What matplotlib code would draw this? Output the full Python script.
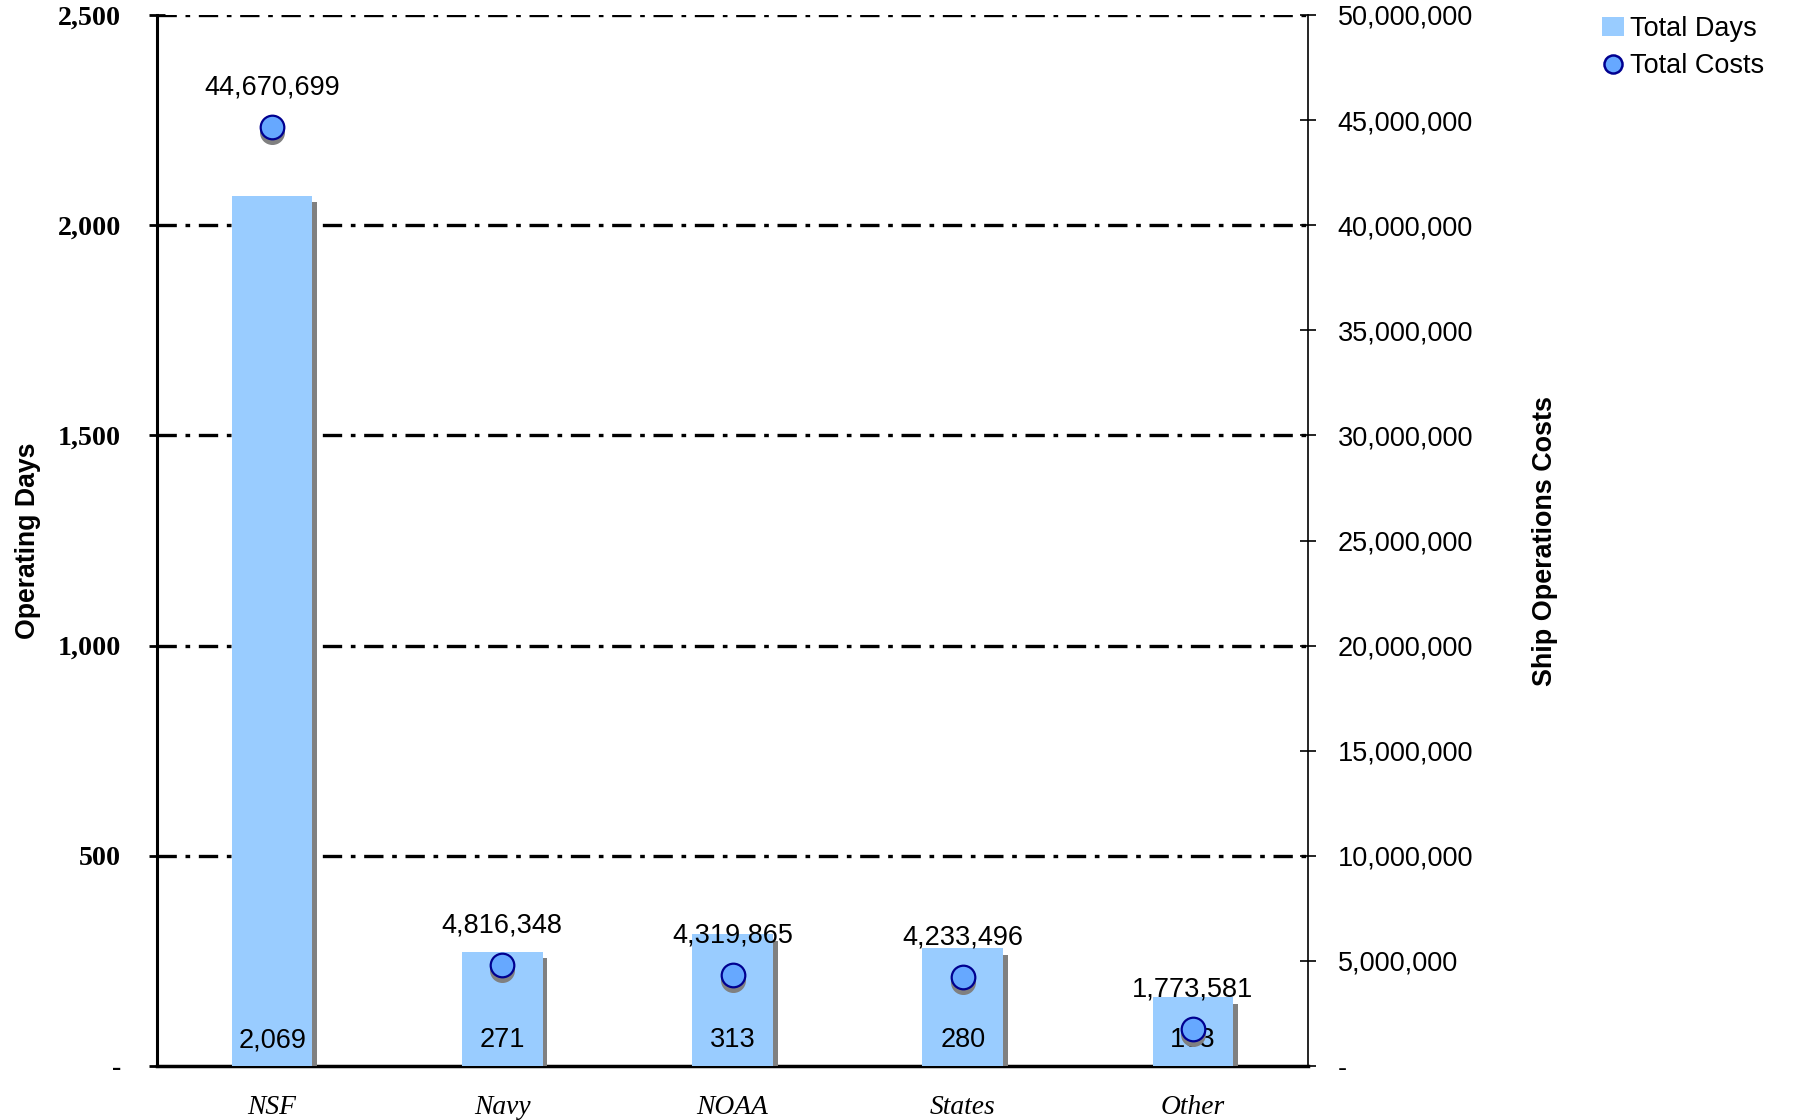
import matplotlib
matplotlib.use("Agg")
import matplotlib.pyplot as plt
import matplotlib.patheffects as pe
from matplotlib.transforms import ScaledTranslation
from matplotlib.ticker import FuncFormatter
from matplotlib.patches import Patch
from matplotlib.lines import Line2D

categories = ["NSF", "Navy", "NOAA", "States", "Other"]
total_days = [2069, 271, 313, 280, 163]
total_costs = [44670699, 4816348, 4319865, 4233496, 1773581]
left_ticks = [0, 500, 1000, 1500, 2000, 2500]
right_ticks = [0, 5e6, 10e6, 15e6, 20e6, 25e6, 30e6, 35e6, 40e6, 45e6, 50e6]

BAR = "#99CCFF"
MFACE = "#66A8FF"
MEDGE = "#000090"
SHADOW = "#808080"
FS = 19.5

fig = plt.figure(figsize=(17.93, 11.20), dpi=100)
ax = fig.add_axes([157/1793, 1-1066/1120, (1308-157)/1793, (1066-15)/1120])
ax2 = ax.twinx()

x = [i + 0.5 for i in range(len(categories))]
ax.set_xlim(0, 5)
ax.set_ylim(0, 2500)
ax2.set_ylim(0, 50e6)

# grid lines
for t in left_ticks[1:]:
    ax.axhline(t, color="black", lw=2.4, linestyle=(0, (5.8, 2.6, 1.4, 2.6)), zorder=1)

bars = ax.bar(x, total_days, width=0.35, color=BAR, zorder=3,
              path_effects=[pe.SimplePatchShadow(offset=(3.5, -4.5), shadow_rgbFace=SHADOW, alpha=1.0), pe.Normal()])

for xi, d in zip(x, total_days):
    ax.annotate(f"{d:,}", (xi, 0), xytext=(0, 18.5), textcoords="offset points",
                ha="center", va="center", fontsize=FS, family="Liberation Sans", zorder=6)

# markers with shadow
shadow_tr = ax2.transData + ScaledTranslation(0, -3.5/72, fig.dpi_scale_trans)
ax2.plot(x, total_costs, linestyle="none", marker="o", markersize=17,
         markerfacecolor=SHADOW, markeredgecolor=SHADOW, transform=shadow_tr, zorder=4)
ax2.plot(x, total_costs, linestyle="none", marker="o", markersize=17,
         markerfacecolor=MFACE, markeredgecolor=MEDGE, markeredgewidth=1.6, zorder=5)
for xi, c in zip(x, total_costs):
    ax2.annotate(f"{c:,}", (xi, c), xytext=(0, 28.5), textcoords="offset points",
                 ha="center", va="center", fontsize=FS, family="Liberation Sans", zorder=6)

# left axis
ax.set_yticks(left_ticks)
ax.yaxis.set_major_formatter(FuncFormatter(lambda v, p: "-" if v == 0 else f"{int(v):,}"))
for lab in ax.get_yticklabels():
    lab.set_family("Liberation Serif")
    lab.set_fontweight("bold")
    lab.set_fontsize(20.2)
ax.tick_params(axis="y", direction="inout", length=12, width=2, pad=20)
ax.set_xticks(x)
ax.set_xticklabels(categories, fontsize=19.8, family="Liberation Serif", style="italic")
ax.tick_params(axis="x", length=0, pad=21)

ax.spines["top"].set_visible(False)
ax.spines["left"].set_linewidth(2.2)
ax.spines["bottom"].set_linewidth(2.5)
ax.spines["right"].set_visible(False)
for s in ["top", "left", "bottom"]:
    ax2.spines[s].set_visible(False)
ax2.spines["right"].set_linewidth(1.2)

ax2.set_yticks(right_ticks)
ax2.yaxis.set_major_formatter(FuncFormatter(lambda v, p: "-" if v == 0 else f"{int(v):,}"))
for lab in ax2.get_yticklabels():
    lab.set_family("Liberation Sans")
    lab.set_fontsize(FS)
ax2.tick_params(axis="y", direction="inout", length=11, width=1.2, pad=16)

ax.set_ylabel("Operating Days", fontsize=19.2, fontweight="bold", family="Liberation Sans")
ax.yaxis.set_label_coords(-0.101, 0.5)
ax2.set_ylabel("Ship Operations Costs", fontsize=19.4, fontweight="bold", family="Liberation Sans")
ax2.yaxis.set_label_coords(1.1946, 0.5)

ax.set_zorder(ax2.get_zorder() - 1)
ax2.patch.set_visible(False)
ax.set_axisbelow(False)

handles = [Patch(facecolor=BAR, edgecolor="none"),
           Line2D([], [], linestyle="none", marker="o", markersize=13,
                  markerfacecolor=MFACE, markeredgecolor=MEDGE, markeredgewidth=1.8)]
fig.legend(handles, ["Total Days", "Total Costs"], loc="upper left",
           bbox_to_anchor=(1591/1793, 1 - 5/1120), frameon=False,
           prop={"family": "Liberation Sans", "size": FS},
           handlelength=0.8, handletextpad=0.25, labelspacing=0.42, borderaxespad=0)

fig.savefig("out.png", dpi=100)
